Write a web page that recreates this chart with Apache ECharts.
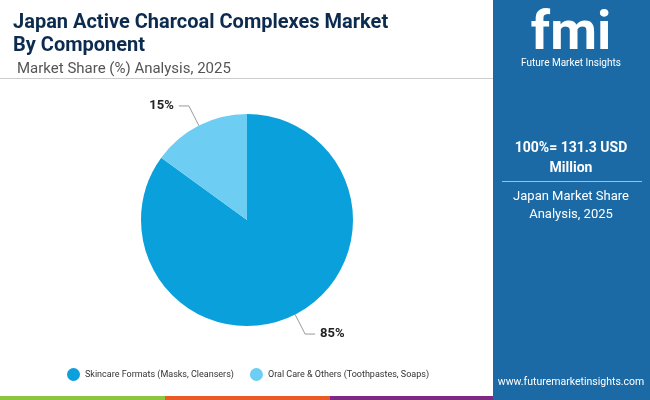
<!DOCTYPE html>
<html>
<head>
<meta charset="utf-8">
<script src="https://cdn.jsdelivr.net/npm/echarts@6/dist/echarts.min.js"></script>
<style>html,body{margin:0;padding:0;background:#fff}#main{width:650px;height:400px}</style>
</head>
<body>
<div id="main"></div>
<script>
// data
var categories = ['Skincare Formats (Masks, Cleansers)', 'Oral Care & Others (Toothpastes, Soaps)'];
var shares = [85, 15];
var colors = ['#0aa0dc', '#6dcdf2'];

var chart = echarts.init(document.getElementById('main'));
var pieData = [];
for (var i = 0; i < categories.length; i++) {
    pieData.push({ name: categories[i], value: shares[i], itemStyle: { color: colors[i] } });
}

var option = {
    title: [
        {
            text: 'Japan Active Charcoal Complexes Market\nBy Component',
            left: 8, top: 6,
            textStyle: { fontFamily: 'Roboto', fontSize: 20, fontWeight: 'bold', color: '#0d2b4e', lineHeight: 23 }
        },
        {
            text: 'Market Share (%) Analysis, 2025',
            left: 12, top: 57,
            textStyle: { fontFamily: 'Roboto', fontSize: 15, fontWeight: 'normal', color: '#555' }
        }
    ],
    legend: {
        bottom: 14, left: 62,
        icon: 'circle', itemWidth: 13, itemHeight: 13, itemGap: 16,
        textStyle: { fontFamily: 'Roboto', fontSize: 9, color: '#333' },
        data: categories
    },
    graphic: [
        { type: 'rect', shape: { x: 0, y: 78, width: 493, height: 1 }, style: { fill: '#ccc' } },
        { type: 'rect', shape: { x: 493, y: 0, width: 157, height: 400 }, style: { fill: '#1b6aa6' } },
        { type: 'rect', shape: { x: 0, y: 396, width: 165, height: 4 }, style: { fill: '#8cc63f' } },
        { type: 'rect', shape: { x: 165, y: 396, width: 165, height: 4 }, style: { fill: '#ea5a24' } },
        { type: 'rect', shape: { x: 330, y: 396, width: 163, height: 4 }, style: { fill: '#7e2a84' } },
        { type: 'text', style: { x: 571, y: 8, text: 'fmi', fill: '#fff', font: 'bold 54px Roboto', textAlign: 'center' } },
        { type: 'text', style: { x: 571, y: 58, text: 'Future Market Insights', fill: '#fff', font: '10px Roboto', textAlign: 'center' } },
        { type: 'text', style: { x: 571, y: 138, text: '100%= 131.3 USD\nMillion', fill: '#fff', font: 'bold 14px Roboto', textAlign: 'center', lineHeight: 20 } },
        { type: 'rect', shape: { x: 502, y: 181, width: 140, height: 1 }, style: { fill: '#9cc0de' } },
        { type: 'text', style: { x: 571, y: 188, text: 'Japan Market Share\nAnalysis, 2025', fill: '#fff', font: '13px Roboto', textAlign: 'center', lineHeight: 18 } },
        { type: 'text', style: { x: 571, y: 377, text: 'www.futuremarketinsights.com', fill: '#fff', font: '10.5px Roboto', textAlign: 'center' } }
    ],
    series: [
        {
            type: 'pie',
            center: [247, 220],
            radius: [0, 106],
            startAngle: 90,
            data: pieData,
            label: {
                formatter: '{d}%',
                fontFamily: 'Roboto', fontSize: 13, fontWeight: 'bold', color: '#222'
            },
            labelLine: { length: 22, length2: 10, lineStyle: { color: '#999' } }
        }
    ]
};
chart.setOption(option);
</script>
</body>
</html>
